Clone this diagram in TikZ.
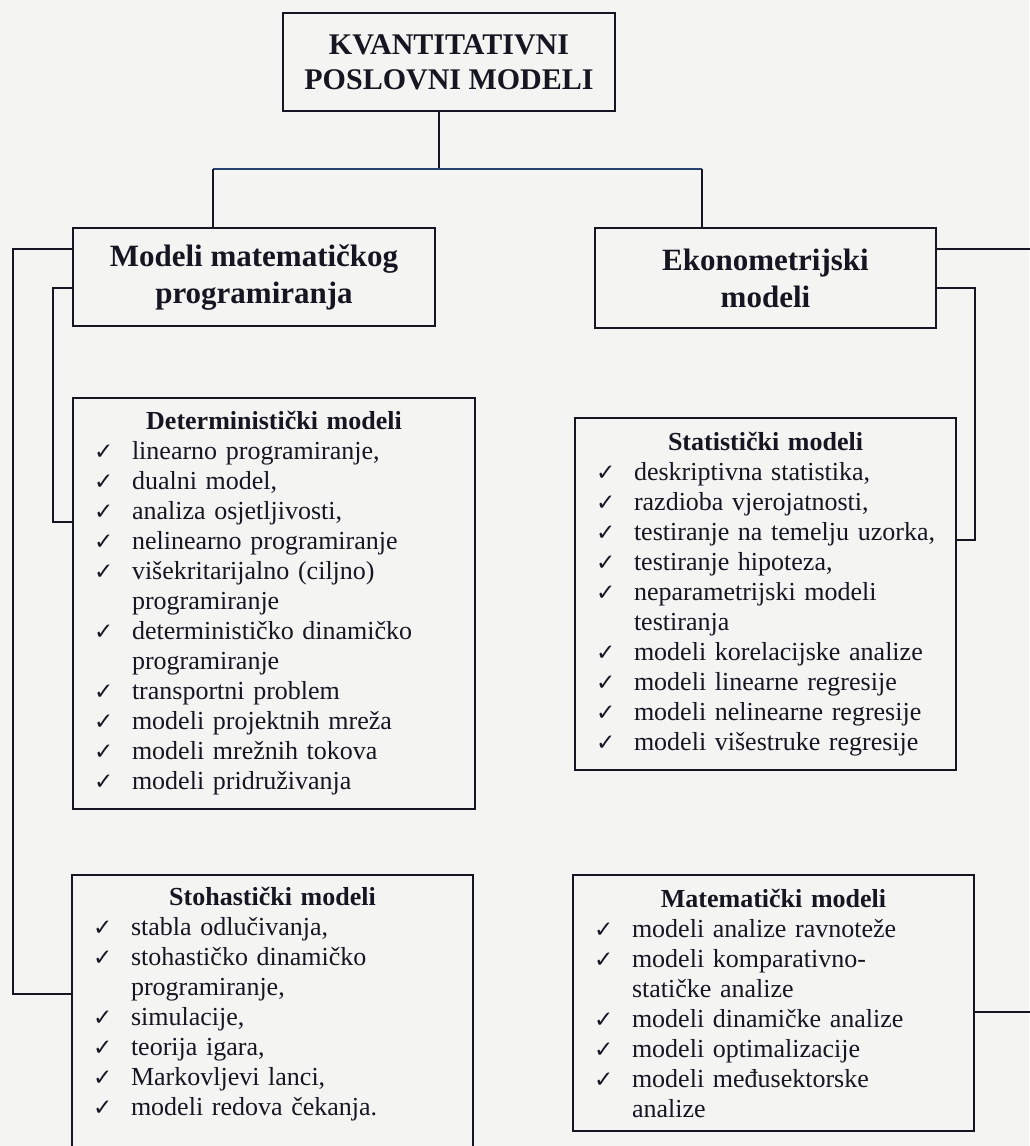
\documentclass[tikz,border=0pt]{standalone}
\usepackage{fontspec}
\setmainfont{Liberation Serif}
\newfontfamily\chkfont{DejaVu Sans}
\definecolor{paper}{RGB}{244,244,242}
\definecolor{ink}{RGB}{22,22,34}
\definecolor{barblue}{RGB}{38,66,112}
\newcommand{\itm}[1]{\hangindent=39pt\hangafter=1\noindent\makebox[39pt][l]{\hspace{1pt}\chkfont\fontsize{23}{23}\selectfont ✓}#1\par}
\newcommand{\ttl}[1]{\raggedright{\centering\bfseries #1\par}}
\tikzset{
hbox/.style={draw=ink,line width=1.8pt,fill=paper,text=ink,align=center,inner sep=0pt,font=\bfseries\fontsize{31}{37}\selectfont},
lbox/.style={draw=ink,line width=1.8pt,fill=paper,text=ink,align=left,inner xsep=20pt,inner ysep=0pt,font=\fontsize{26}{30}\selectfont},
link/.style={draw=ink,line width=1.8pt}
}
\begin{document}
\begin{tikzpicture}[x=1pt,y=-1pt]
\useasboundingbox (0,0) rectangle (1029,1146);
\fill[paper] (0,0) rectangle (1029,1146);
\node[hbox,minimum width=332pt,minimum height=98pt,font=\bfseries\fontsize{30}{35}\selectfont] (top) at (449,62) {KVANTITATIVNI\\POSLOVNI MODELI};
\node[hbox,minimum width=362pt,minimum height=98pt] (mmp) at (254,277) {Modeli matematičkog\\programiranja};
\node[hbox,minimum width=341pt,minimum height=100pt] (eko) at (765.5,278) {Ekonometrijski\\modeli};
\node[lbox,text width=362pt,minimum height=411pt] (det) at (274,603.5) {\ttl{Deterministički modeli}
\itm{linearno programiranje,}
\itm{dualni model,}
\itm{analiza osjetljivosti,}
\itm{nelinearno programiranje}
\itm{višekritarijalno (ciljno)\newline programiranje}
\itm{determinističko dinamičko\newline programiranje}
\itm{transportni problem}
\itm{modeli projektnih mreža}
\itm{modeli mrežnih tokova}
\itm{modeli pridruživanja}};
\node[lbox,text width=341pt,minimum height=352pt] (stat) at (765.5,594) {\ttl{Statistički modeli}
\itm{deskriptivna statistika,}
\itm{razdioba vjerojatnosti,}
\itm{testiranje na temelju uzorka,}
\itm{testiranje hipoteza,}
\itm{neparametrijski modeli\newline testiranja}
\itm{modeli korelacijske analize}
\itm{modeli linearne regresije}
\itm{modeli nelinearne regresije}
\itm{modeli višestruke regresije}};
\node[lbox,text width=361pt,anchor=north,inner ysep=12pt] (stoh) at (272.5,874) {\ttl{Stohastički modeli}
\itm{stabla odlučivanja,}
\itm{stohastičko dinamičko\newline programiranje,}
\itm{simulacije,}
\itm{teorija igara,}
\itm{Markovljevi lanci,}
\itm{modeli redova čekanja.}\vspace{60pt}\null};
\node[lbox,text width=361pt,minimum height=256pt] (mat) at (773.5,1003) {\ttl{Matematički modeli}
\itm{modeli analize ravnoteže}
\itm{modeli komparativno-\newline statičke analize}
\itm{modeli dinamičke analize}
\itm{modeli optimalizacije}
\itm{modeli međusektorske\newline analize}};
\coordinate (jn) at (439,169);
\coordinate (lx) at (213,169);
\coordinate (rx) at (702,169);
\coordinate (lo) at (13,249);
\coordinate (lod) at (13,994);
\coordinate (li) at (53,288);
\coordinate (lid) at (53,522);
\coordinate (ro) at (1040,249);
\coordinate (rod) at (1040,1012);
\coordinate (ri) at (975,288);
\coordinate (rid) at (975,540);
\draw[link] (top.south -| jn) -- (jn);
\draw[link,draw=barblue] (lx) -- (rx);
\draw[link] (lx) -- (mmp.north -| lx);
\draw[link] (rx) -- (eko.north -| rx);
\draw[link] (mmp.west |- lo) -- (lo) -- (lod) -- (stoh.west |- lod);
\draw[link] (mmp.west |- li) -- (li) -- (lid) -- (det.west |- lid);
\draw[link] (eko.east |- ro) -- (ro) -- (rod) -- (mat.east |- rod);
\draw[link] (eko.east |- ri) -- (ri) -- (rid) -- (stat.east |- rid);
\end{tikzpicture}
\end{document}
